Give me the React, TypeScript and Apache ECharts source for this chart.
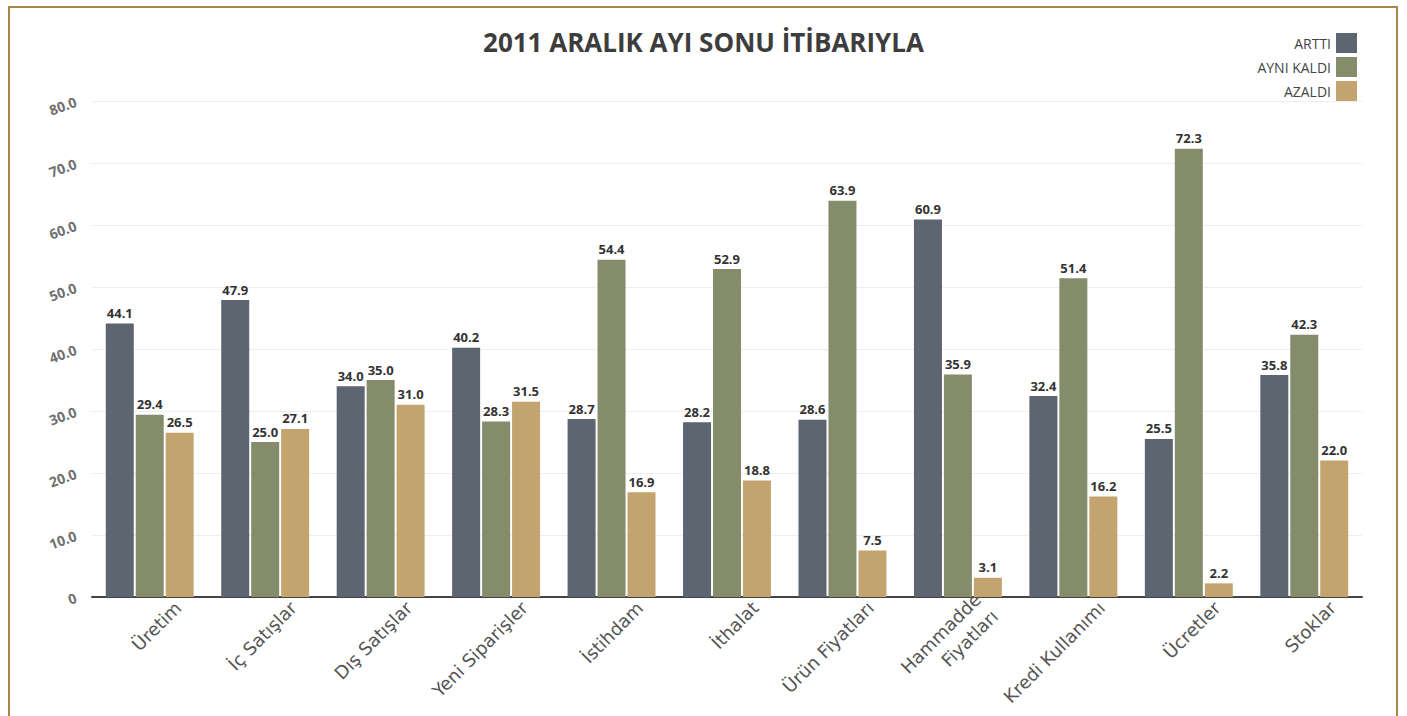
import React, { useEffect, useRef } from "react";
import * as echarts from "echarts";

const categories = [
  "Üretim",
  "İç Satışlar",
  "Dış Satışlar",
  "Yeni Siparişler",
  "İstihdam",
  "İthalat",
  "Ürün Fiyatları",
  "Hammadde\nFiyatları",
  "Kredi Kullanımı",
  "Ücretler",
  "Stoklar",
];
const artti = [44.1, 47.9, 34.0, 40.2, 28.7, 28.2, 28.6, 60.9, 32.4, 25.5, 35.8];
const ayniKaldi = [29.4, 25.0, 35.0, 28.3, 54.4, 52.9, 63.9, 35.9, 51.4, 72.3, 42.3];
const azaldi = [26.5, 27.1, 31.0, 31.5, 16.9, 18.8, 7.5, 3.1, 16.2, 2.2, 22.0];
const seriesNames = ["ARTTI", "AYNI KALDI", "AZALDI"];
const colors = ["#5d6571", "#858c6c", "#c3a46e"];

export default function App() {
  const ref = useRef<HTMLDivElement>(null);
  useEffect(() => {
    if (!ref.current) return;
    const chart = echarts.init(ref.current, null, { renderer: "svg" });
    const font = "'Open Sans', 'Noto Sans', sans-serif";
    const label = {
      show: true,
      position: "top",
      distance: 4,
      color: "#333",
      fontSize: 13,
      fontWeight: "bold",
      fontFamily: font,
      formatter: (p: any) => Number(p.value).toFixed(1),
    };
    const datasets = [artti, ayniKaldi, azaldi];
    chart.setOption({
      animation: false,
      backgroundColor: "#ffffff",
      textStyle: { fontFamily: font },
      title: {
        text: "2011 ARALIK AYI SONU İTİBARIYLA",
        left: "center",
        top: 24,
        textStyle: { fontSize: 26, fontWeight: "bold", color: "#3d3d3d", fontFamily: font },
      },
      legend: {
        orient: "vertical",
        right: 45,
        top: 28,
        align: "right",
        itemWidth: 21,
        itemHeight: 20,
        itemGap: 4,
        icon: "rect",
        textStyle: { fontSize: 14, color: "#444", fontFamily: font },
        data: seriesNames,
      },
      grid: { left: 92, right: 45, top: 101, bottom: 119, containLabel: false },
      xAxis: {
        type: "category",
        data: categories,
        axisLine: { lineStyle: { color: "#444", width: 2 } },
        axisTick: { show: false },
        axisLabel: {
          rotate: 45,
          interval: 0,
          margin: 36,
          padding: [0, -40, 0, 0],
          color: "#555",
          fontSize: 18,
          fontFamily: "'DejaVu Sans', sans-serif",
          lineHeight: 24,
        },
      },
      yAxis: {
        type: "value",
        min: 0,
        max: 80,
        interval: 10,
        axisLine: { show: false },
        axisTick: { show: false },
        splitLine: { lineStyle: { color: "#eeeeee" } },
        axisLabel: {
          rotate: 20,
          margin: 16,
          color: "#6f6f6f",
          fontSize: 14,
          fontWeight: "bold",
          fontFamily: font,
          formatter: (v: number) => (v === 0 ? "0" : v.toFixed(1)),
        },
      },
      series: seriesNames.map((name, i) => ({
        name,
        type: "bar",
        data: datasets[i],
        barWidth: 28,
        barGap: "7%",
        itemStyle: { color: colors[i] },
        label,
      })),
      graphic: [
        {
          type: "polyline",
          silent: true,
          shape: { points: [[9, 716], [9, 7], [1397, 7], [1397, 716]] },
          style: { stroke: "#a8864a", lineWidth: 2, fill: "none" },
        },
      ],
    });
    return () => chart.dispose();
  }, []);
  return (
    <div style={{ position: "fixed", left: 0, top: 0, width: 1407, height: 716 }}>
      <div ref={ref} style={{ width: 1407, height: 716 }} />
    </div>
  );
}
